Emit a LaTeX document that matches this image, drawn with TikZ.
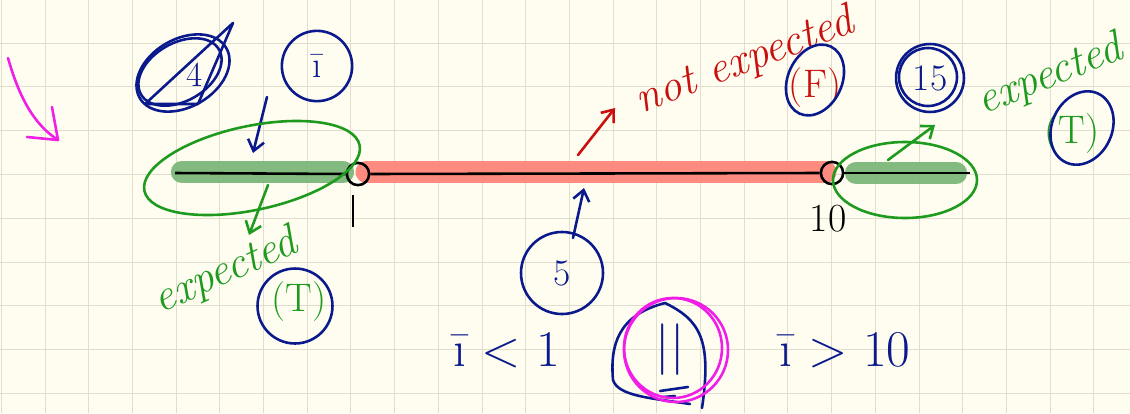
\documentclass[tikz,border=0pt]{standalone}
\usepackage{fontspec}
\usetikzlibrary{arrows.meta,shapes.geometric}
\definecolor{paper}{HTML}{FEFDF0}
\definecolor{gridc}{HTML}{E0DDCF}
\definecolor{pen}{HTML}{0A1A8C}
\definecolor{grn}{HTML}{1E9A1E}
\definecolor{red1}{HTML}{C8100E}
\definecolor{hlg}{HTML}{7DB77A}
\definecolor{hlr}{HTML}{FF857A}
\definecolor{mag}{HTML}{F01EE6}
\tikzset{
  ink/.style={line width=2.2pt,line cap=round,line join=round},
  hand/.style={font=\fontsize{38}{38}\selectfont\itshape},
  big/.style={font=\fontsize{34}{34}\selectfont},
  numc/.style={circle,draw=pen,ink,minimum size=#1,inner sep=0pt,text=pen,font=\fontsize{32}{32}\selectfont},
  tip/.style={-{Straight Barb[length=9pt,width=14pt]}}
}
\begin{document}
\begin{tikzpicture}[x=0.03cm,y=-0.03cm]
\useasboundingbox (0,0) rectangle (1130,413);
\fill[paper] (0,0) rectangle (1130,413);
\foreach \i in {0,...,25} \draw[gridc,line width=0.8pt] (1.3+43.7*\i,0) -- (1.3+43.7*\i,413);
\foreach \j in {0,...,9} \draw[gridc,line width=0.8pt] (0,-0.8+43.8*\j) -- (1130,-0.8+43.8*\j);

% highlights
\draw[hlg,line width=19pt,line cap=round,opacity=0.95] (182,172) -- (343,172);
\draw[hlr,line width=18pt,line cap=round,opacity=0.95] (366,172) -- (826,172);
\draw[hlg,line width=19pt,line cap=round,opacity=0.95] (856,173) -- (956,173);

% number line
\node[circle,draw=black,line width=2.2pt,minimum size=19pt,inner sep=0pt] (p1) at (358,174) {};
\node[circle,draw=black,line width=2.2pt,minimum size=19pt,inner sep=0pt] (p10) at (832,173) {};
\coordinate (L) at (175,173);
\coordinate (R) at (970,173);
\draw[black,line width=2.2pt] (L) -- (p1.west);
\draw[black,line width=2.2pt] (p1.east) -- (p10.west);
\draw[black,line width=2.2pt] (p10.east) -- (R);
\draw[black,line width=2.2pt] (353,195) -- (353,227);
\node[font=\fontsize{34}{34}\selectfont,inner sep=0pt] (t10) at (828,219) {10};

% magenta arrow top-left
\coordinate (m1) at (8,58);
\coordinate (m2) at (58,140);
\draw[mag,ink] (m1) .. controls (20,100) and (35,125) .. (m2);
\draw[mag,ink] (27,137) -- (m2) -- (52,107);

% crossed 4
\node[pen,font=\fontsize{30}{30}\selectfont] (four) at (195,75) {4};
\draw[pen,ink] (183,73) ellipse [x radius=50,y radius=34,rotate=30];
\draw[pen,ink] (180,72) ellipse [x radius=45,y radius=29,rotate=30];
\draw[pen,ink] (145,104) -- (233,23) -- (198,104) -- (148,104);

% i circle and arrow
\node[numc=60pt] (ci) at (317,66) {\=\i};
\coordinate (ia) at (253,153);
\draw[pen,ink,tip] (267,97) -- (ia);

% left ellipse and expected (T)
\draw[grn,ink] (252,168) ellipse [x radius=110,y radius=42,rotate=12];
\draw[grn,ink,tip] (268,185) -- (249,235);
\node[grn,hand,rotate=24] (expL) at (226,272) {expected};
\node[numc=64pt] (cTL) at (295,306) {};
\node[grn,big] (TL) at (299,302) {(T)};

% red arrow and not expected
\draw[red1,ink,tip] (578,155) -- (615,108);
\node[red1,hand,rotate=21] (nexp) at (745,62) {not expected};
\node[red1,big] (F) at (815,88) {(F)};
\draw[pen,ink] (815,80) ellipse [x radius=27,y radius=37,rotate=-25];

% 15
\node[numc=58pt] (c15) at (930,78) {15};
\draw[pen,ink] (928,77) circle [radius=29];

% right expected (T)
\node[grn,hand,rotate=22] (expR) at (1050,76) {expected};
\node[grn,big] (TR) at (1072,134) {(T)};
\draw[pen,ink] (1082,128) ellipse [x radius=30,y radius=38,rotate=-25];
\draw[grn,ink] (905,180) ellipse [x radius=72,y radius=38];
\draw[grn,ink,tip] (888,160) -- (935,125);

% 5
\node[numc=70pt] (c5) at (562,273) {5};
\draw[pen,ink,tip] (573,238) -- (584,188);

% bottom expressions
\node[pen,font=\fontsize{44}{44}\selectfont] (lt) at (507,350) {\=\i\ < 1};
\node[pen,font=\fontsize{44}{44}\selectfont] (gt) at (845,350) {\=\i\ > 10};
\node[pen,font=\fontsize{44}{44}\selectfont] (or) at (670,350) {||};
\draw[pen,ink] (665,303) .. controls (618,315) and (610,345) .. (613,380)
  .. controls (618,396) and (650,398) .. (690,404);
\draw[pen,ink] (665,303) .. controls (700,320) and (712,340) .. (702,408);
\draw[pen,ink] (660,391) -- (688,387);
\draw[pen,ink] (663,397) -- (675,396);
\draw[mag,ink] (676,350) ellipse [x radius=52,y radius=52];
\draw[mag,ink] (673,348) ellipse [x radius=49,y radius=50];
\end{tikzpicture}
\end{document}
